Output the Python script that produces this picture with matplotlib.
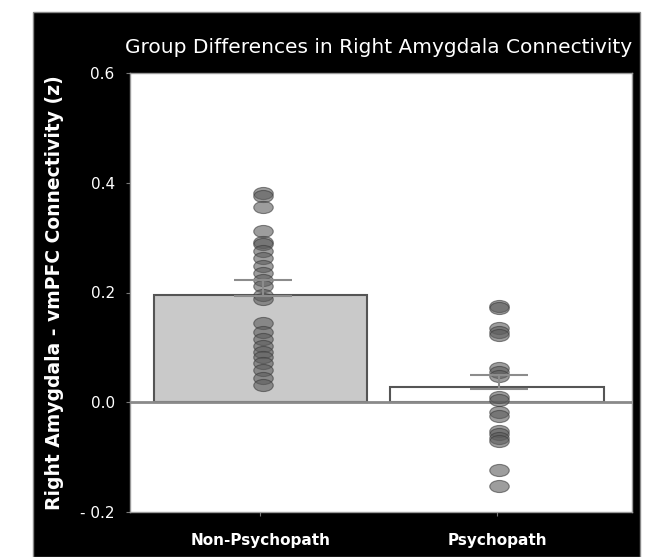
import numpy as np
import matplotlib
matplotlib.use('Agg')
import matplotlib.pyplot as plt
from matplotlib.path import Path
from matplotlib.patches import Rectangle

# --- Data ---
groups = ["Non-Psychopath", "Psychopath"]
bar_means = [0.195, 0.027]
err_center = [0.208, 0.037]
err_half = [0.014, 0.012]

non_psych = [0.382, 0.376, 0.356, 0.312, 0.292, 0.288, 0.275, 0.262, 0.248,
             0.236, 0.222, 0.212, 0.196, 0.188, 0.145, 0.128, 0.115, 0.102,
             0.092, 0.082, 0.072, 0.058, 0.045, 0.032]
psych = [0.176, 0.172, 0.135, 0.128, 0.122, 0.062, 0.056, 0.048, 0.010,
         0.005, -0.018, -0.025, -0.052, -0.058, -0.065, -0.070, -0.124, -0.152]

yticks = [-0.2, 0.0, 0.2, 0.4, 0.6]
ytick_labels = ["- 0.2", "0.0", "0.2", "0.4", "0.6"]

# squashed ellipse marker
circ = Path.unit_circle()
ellipse = Path(circ.vertices * np.array([1.0, 0.62]), circ.codes)

fig = plt.figure(figsize=(6.53, 5.57), dpi=100)

# black frame behind everything
bg = fig.add_axes([0, 0, 1, 1], zorder=-10)
bg.set_xlim(0, 653)
bg.set_ylim(557, 0)
bg.axis('off')
bg.add_patch(Rectangle((33, 12), 607, 545, facecolor='black',
                       edgecolor='#888888', lw=1.0))

ax = fig.add_axes([130 / 653, 45 / 557, 502 / 653, 439 / 557])
ax.set_facecolor('white')

x = np.arange(len(groups))
ax.bar(x[0], bar_means[0], width=0.9, color='#c9c9c9', edgecolor='#555555',
       lw=1.5, zorder=2)
ax.bar(x[1], bar_means[1], width=0.9, color='white', edgecolor='#555555',
       lw=1.5, zorder=2)
ax.axhline(0, color='#8a8a8a', lw=2, zorder=3)

for xi, vals in zip(x, [non_psych, psych]):
    ax.plot(np.full(len(vals), xi + 0.01), vals, linestyle='none',
            marker=ellipse, markersize=14, markerfacecolor='#5c5c5c',
            markeredgecolor='#3a3a3a', markeredgewidth=0.8, alpha=0.6,
            zorder=4)

ax.errorbar(x + 0.01, err_center, yerr=err_half, fmt='none', ecolor='#8c8c8c',
            elinewidth=1.5, capsize=21, capthick=1.5, zorder=5)

ax.set_xlim(-0.55, 1.57)
ax.set_ylim(-0.2, 0.6)
ax.set_yticks(yticks)
ax.set_yticklabels(ytick_labels)
ax.set_xticks(x)
ax.set_xticklabels(groups)
ax.tick_params(axis='y', colors='#777777', labelcolor='white', labelsize=11,
               length=3, pad=8)
ax.tick_params(axis='x', colors='#777777', labelcolor='white', labelsize=11,
               length=3, pad=12)
for lab in ax.get_xticklabels():
    lab.set_fontweight('bold')
for s in ax.spines.values():
    s.set_color('#999999')
    s.set_linewidth(1.0)

ax.set_ylabel("Right Amygdala - vmPFC Connectivity (z)", color='white',
              fontsize=13.5, fontweight='bold', labelpad=12)
fig.text(0.579, 0.915, "Group Differences in Right Amygdala Connectivity",
         color='white', fontsize=14.5, ha='center', va='center')

fig.savefig("out.png", dpi=100, facecolor='white')
